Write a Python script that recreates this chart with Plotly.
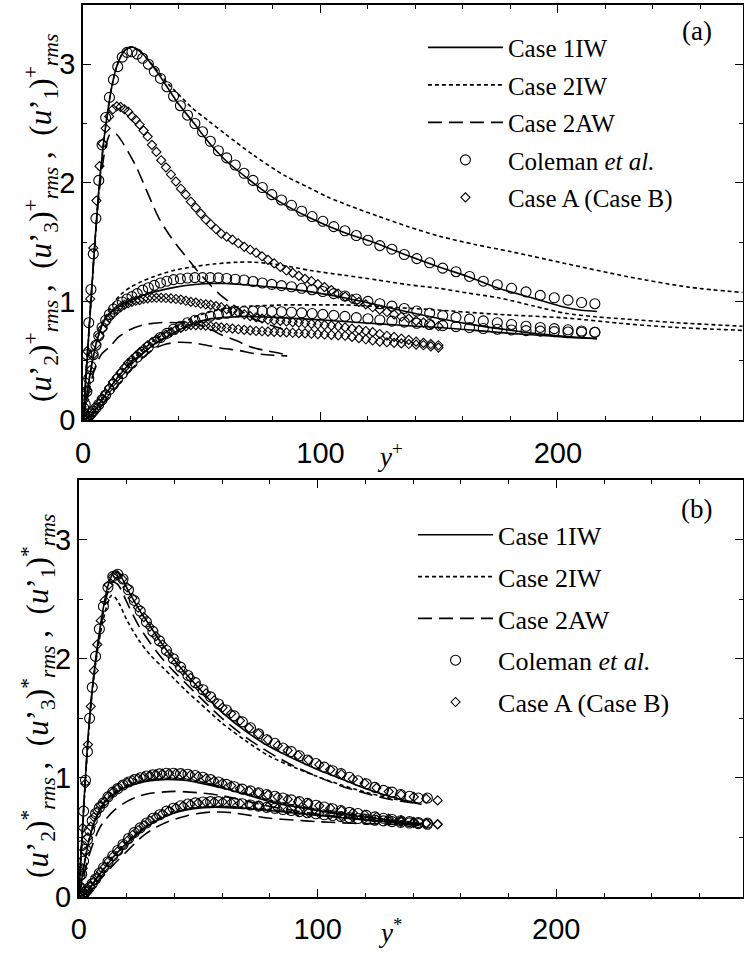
import plotly.graph_objects as go

# ---------------- Panel (a): wall units y+ ----------------
# Case 1IW (solid)
a_s1_x = [0, 1, 2, 3, 4, 5, 6, 7, 8, 9, 10, 12, 14, 16, 18, 20, 22, 25, 28, 32, 36, 40, 46, 53, 60, 71, 82, 95, 110, 122, 135, 150, 162, 175, 189, 203, 210, 216.5]
a_s1_y = [0, 0.30, 0.60, 0.90, 1.20, 1.50, 1.78, 2.02, 2.22, 2.40, 2.55, 2.80, 2.97, 3.07, 3.125, 3.145, 3.135, 3.09, 3.02, 2.91, 2.79, 2.67, 2.52, 2.34, 2.19, 2.01, 1.85, 1.71, 1.58, 1.50, 1.40, 1.29, 1.21, 1.11, 1.03, 0.95, 0.925, 0.915]
a_s3_x = [0, 1, 2, 3, 4, 5, 6, 8, 10, 12, 14, 17, 20, 25, 30, 39, 46, 53, 60, 68, 80, 96, 110, 124, 137, 150, 162, 175, 190, 203, 216.5]
a_s3_y = [0, 0.13, 0.27, 0.39, 0.50, 0.60, 0.68, 0.80, 0.87, 0.91, 0.94, 0.98, 1.01, 1.05, 1.08, 1.12, 1.14, 1.15, 1.15, 1.14, 1.12, 1.08, 1.03, 0.97, 0.91, 0.855, 0.81, 0.77, 0.73, 0.705, 0.685]
a_s2_x = [0, 2, 4, 6, 8, 10, 12, 15, 18, 21, 25, 30, 35, 40, 46, 53, 60, 68, 80, 95, 110, 125, 140, 150, 165, 180, 195, 205, 216.5]
a_s2_y = [0, 0.02, 0.06, 0.11, 0.17, 0.23, 0.29, 0.37, 0.44, 0.50, 0.56, 0.64, 0.70, 0.755, 0.81, 0.85, 0.865, 0.872, 0.865, 0.85, 0.83, 0.81, 0.79, 0.78, 0.755, 0.73, 0.71, 0.695, 0.685]
# Case 2IW (dotted)
a_d1_x = [0, 1, 2, 3, 4, 5, 6, 7, 8, 9, 10, 12, 14, 16, 18, 20, 22, 25, 28, 32, 36, 40, 46, 53, 60, 72, 85, 95, 103, 113, 124, 137, 150, 165, 180, 203, 229, 255, 278]
a_d1_y = [0, 0.30, 0.60, 0.90, 1.20, 1.50, 1.78, 2.02, 2.22, 2.40, 2.55, 2.80, 2.97, 3.07, 3.125, 3.145, 3.135, 3.09, 3.02, 2.93, 2.83, 2.75, 2.63, 2.52, 2.41, 2.23, 2.06, 1.96, 1.88, 1.80, 1.72, 1.63, 1.55, 1.48, 1.42, 1.32, 1.21, 1.12, 1.075]
a_d3_x = [0, 1, 2, 3, 4, 5, 6, 8, 10, 13, 16, 20, 25, 30, 38, 46, 55, 65, 72, 82, 96, 110, 124, 137, 150, 162, 175, 190, 203, 216, 229, 250, 278]
a_d3_y = [0, 0.13, 0.27, 0.40, 0.51, 0.60, 0.68, 0.80, 0.89, 0.99, 1.06, 1.12, 1.17, 1.21, 1.26, 1.29, 1.315, 1.33, 1.33, 1.31, 1.26, 1.22, 1.18, 1.14, 1.11, 1.07, 1.03, 0.96, 0.90, 0.87, 0.85, 0.82, 0.79]
a_d2_x = [0, 2, 4, 6, 8, 10, 13, 16, 20, 25, 30, 35, 40, 46, 55, 63, 71, 85, 100, 110, 125, 147, 175, 203, 229, 250, 278]
a_d2_y = [0, 0.02, 0.06, 0.12, 0.18, 0.24, 0.32, 0.40, 0.49, 0.59, 0.67, 0.74, 0.80, 0.86, 0.92, 0.95, 0.96, 0.97, 0.97, 0.97, 0.955, 0.93, 0.89, 0.86, 0.81, 0.78, 0.755]
# Case 2AW (dashed)
a_w1_x = [0, 1, 2, 3, 4, 5, 6, 7, 8, 9, 10, 11, 12, 14, 16, 19, 22.5, 26, 29, 32, 36, 40, 43.3, 48, 53, 57, 61.3, 66, 71, 76, 81, 85.5]
a_w1_y = [0, 0.30, 0.62, 0.93, 1.23, 1.50, 1.75, 1.96, 2.12, 2.25, 2.34, 2.40, 2.42, 2.41, 2.36, 2.26, 2.13, 1.97, 1.83, 1.70, 1.57, 1.46, 1.38, 1.26, 1.15, 1.07, 1.00, 0.93, 0.86, 0.82, 0.785, 0.755]
a_w3_x = [0, 2, 4, 6, 8, 11.4, 15, 19.7, 25, 32, 40, 46, 52, 58, 65, 70, 78, 86]
a_w3_y = [0, 0.20, 0.37, 0.49, 0.56, 0.62, 0.70, 0.76, 0.80, 0.82, 0.82, 0.815, 0.78, 0.72, 0.665, 0.62, 0.58, 0.55]
a_w2_x = [0, 3, 6, 10, 15, 20, 25, 30, 35, 40, 46, 52, 60, 66, 72, 80, 86]
a_w2_y = [0, 0.03, 0.08, 0.17, 0.30, 0.42, 0.52, 0.60, 0.64, 0.655, 0.65, 0.63, 0.60, 0.585, 0.56, 0.545, 0.54]
# Coleman et al. (circles)
a_c_x = [0.3, 0.9, 1.6, 2.4, 3.3, 4.3, 5.4, 6.6, 8.0, 9.5, 11.1, 12.8, 14.6, 16.5, 18.5, 20.6, 22.8, 25.1, 27.5, 30.0, 32.6, 35.3, 38.1, 41.0, 44.0, 47.1, 50.3, 53.6, 57.0, 60.5, 64.1, 67.8, 71.6, 75.5, 79.5, 83.6, 87.8, 92.1, 96.5, 101.0, 105.6, 110.3, 115.1, 120.0, 125.0, 130.1, 135.3, 140.6, 146.0, 151.5, 157.1, 162.8, 168.6, 174.5, 180.5, 186.6, 192.6, 198.5, 204.3, 210.0, 215.6]
a_c1_y = [0.10, 0.31, 0.55, 0.82, 1.10, 1.40, 1.70, 2.02, 2.32, 2.55, 2.72, 2.87, 2.98, 3.06, 3.10, 3.105, 3.085, 3.05, 3.00, 2.94, 2.88, 2.81, 2.73, 2.65, 2.57, 2.50, 2.43, 2.35, 2.27, 2.21, 2.15, 2.08, 2.02, 1.96, 1.90, 1.855, 1.81, 1.76, 1.715, 1.675, 1.63, 1.595, 1.555, 1.515, 1.47, 1.44, 1.395, 1.36, 1.325, 1.28, 1.25, 1.21, 1.17, 1.14, 1.11, 1.08, 1.05, 1.03, 1.01, 0.99, 0.98]
a_c3_y = [0.04, 0.13, 0.24, 0.35, 0.45, 0.55, 0.63, 0.71, 0.78, 0.84, 0.89, 0.935, 0.965, 0.995, 1.02, 1.04, 1.065, 1.095, 1.115, 1.135, 1.155, 1.17, 1.183, 1.19, 1.197, 1.20, 1.20, 1.20, 1.198, 1.193, 1.187, 1.18, 1.167, 1.155, 1.143, 1.133, 1.123, 1.11, 1.098, 1.083, 1.065, 1.045, 1.02, 1.00, 0.98, 0.96, 0.94, 0.918, 0.90, 0.88, 0.865, 0.85, 0.835, 0.82, 0.805, 0.79, 0.78, 0.77, 0.76, 0.75, 0.74]
a_c2_y = [0.0, 0.005, 0.015, 0.03, 0.05, 0.075, 0.10, 0.13, 0.17, 0.21, 0.255, 0.30, 0.345, 0.39, 0.44, 0.48, 0.53, 0.57, 0.615, 0.655, 0.695, 0.73, 0.765, 0.79, 0.82, 0.84, 0.86, 0.875, 0.89, 0.90, 0.91, 0.915, 0.918, 0.918, 0.915, 0.912, 0.908, 0.903, 0.897, 0.89, 0.882, 0.873, 0.863, 0.853, 0.843, 0.833, 0.825, 0.815, 0.805, 0.795, 0.787, 0.779, 0.771, 0.765, 0.759, 0.753, 0.749, 0.745, 0.742, 0.74, 0.738]
# Case A (diamonds)
a_a_x = [0.5, 1.7, 3.0, 4.3, 5.6, 6.9, 8.2, 9.5, 11.0, 12.6, 14.2, 15.8, 17.4, 19.0, 20.6, 22.2, 23.8, 25.5, 27.2, 29.0, 30.9, 32.9, 34.9, 37.0, 39.1, 41.2, 43.3, 45.4, 47.5, 49.6, 51.7, 53.8, 56.0, 58.2, 60.5, 62.9, 65.4, 67.9, 70.4, 72.9, 75.4, 77.9, 80.5, 83.1, 85.7, 88.3, 90.9, 93.5, 96.2, 98.9, 101.7, 104.6, 107.5, 110.4, 113.3, 116.2, 119.1, 122.0, 125.0, 128.0, 131.0, 134.1, 137.2, 140.3, 143.4, 146.5, 149.7]
a_a1_y = [0.17, 0.58, 1.02, 1.45, 1.85, 2.14, 2.33, 2.46, 2.56, 2.62, 2.645, 2.64, 2.62, 2.60, 2.56, 2.53, 2.49, 2.44, 2.39, 2.32, 2.26, 2.19, 2.13, 2.07, 2.01, 1.95, 1.90, 1.84, 1.79, 1.74, 1.69, 1.65, 1.61, 1.57, 1.545, 1.52, 1.49, 1.46, 1.435, 1.41, 1.38, 1.35, 1.32, 1.29, 1.26, 1.24, 1.215, 1.19, 1.17, 1.145, 1.12, 1.095, 1.065, 1.04, 1.02, 0.995, 0.975, 0.95, 0.93, 0.91, 0.89, 0.87, 0.855, 0.835, 0.82, 0.805, 0.79]
a_a3_y = [0.07, 0.25, 0.42, 0.55, 0.64, 0.71, 0.77, 0.82, 0.86, 0.895, 0.925, 0.95, 0.97, 0.985, 0.995, 1.005, 1.01, 1.02, 1.025, 1.03, 1.03, 1.03, 1.028, 1.025, 1.02, 1.015, 1.005, 0.995, 0.99, 0.98, 0.975, 0.97, 0.96, 0.95, 0.935, 0.92, 0.905, 0.89, 0.875, 0.865, 0.855, 0.845, 0.84, 0.835, 0.83, 0.825, 0.82, 0.815, 0.81, 0.805, 0.80, 0.795, 0.79, 0.78, 0.77, 0.76, 0.75, 0.74, 0.725, 0.71, 0.70, 0.685, 0.675, 0.66, 0.65, 0.64, 0.63]
a_a2_y = [0.0, 0.01, 0.03, 0.06, 0.10, 0.14, 0.18, 0.22, 0.27, 0.32, 0.36, 0.40, 0.44, 0.48, 0.51, 0.54, 0.57, 0.60, 0.63, 0.655, 0.68, 0.70, 0.72, 0.74, 0.76, 0.775, 0.79, 0.80, 0.80, 0.80, 0.795, 0.79, 0.785, 0.78, 0.775, 0.77, 0.765, 0.76, 0.755, 0.75, 0.748, 0.745, 0.742, 0.74, 0.738, 0.735, 0.732, 0.73, 0.727, 0.724, 0.72, 0.717, 0.713, 0.71, 0.70, 0.69, 0.68, 0.67, 0.66, 0.655, 0.65, 0.645, 0.64, 0.635, 0.63, 0.62, 0.61]

# ---------------- Panel (b): semi-local units y* ----------------
b_s1_x = [0, 1, 2, 3, 4, 5, 6, 7, 8, 10, 12, 14, 15, 16, 18, 20, 23, 26, 30, 35, 40, 45, 50, 55, 60, 70, 80, 90, 100, 110, 120, 130, 143.5]
b_s1_y = [0, 0.38, 0.74, 1.08, 1.38, 1.62, 1.82, 1.99, 2.14, 2.40, 2.60, 2.71, 2.74, 2.73, 2.68, 2.60, 2.49, 2.39, 2.27, 2.12, 1.99, 1.87, 1.76, 1.65, 1.55, 1.39, 1.26, 1.16, 1.07, 0.99, 0.91, 0.845, 0.776]
b_d1_x = [0, 1, 2, 3, 4, 5, 6, 7, 8, 10, 12, 13.5, 15, 17, 20, 25, 30, 35, 40, 45, 50, 60, 70, 80, 90, 100, 110, 120, 130, 143.5]
b_d1_y = [0, 0.36, 0.72, 1.05, 1.34, 1.59, 1.79, 1.95, 2.09, 2.31, 2.46, 2.53, 2.52, 2.46, 2.33, 2.16, 2.03, 1.93, 1.83, 1.73, 1.64, 1.46, 1.31, 1.18, 1.09, 1.01, 0.94, 0.88, 0.83, 0.78]
b_w1_x = [0, 1, 2, 3, 4, 5, 6, 7, 8, 10, 12, 14, 16, 18, 20, 25, 30, 35, 40, 45, 50, 60, 70, 80, 90, 100, 110, 120, 130, 143.5]
b_w1_y = [0, 0.37, 0.73, 1.07, 1.37, 1.61, 1.81, 1.97, 2.11, 2.36, 2.55, 2.64, 2.63, 2.57, 2.48, 2.28, 2.13, 2.00, 1.89, 1.79, 1.69, 1.50, 1.34, 1.21, 1.10, 1.01, 0.93, 0.87, 0.82, 0.78]
b_s3_x = [0, 1, 2, 3, 4, 5, 6, 8, 10, 12, 15, 20, 25, 30, 35, 40, 45, 50, 60, 70, 80, 90, 100, 110, 120, 130, 143.5]
b_s3_y = [0, 0.12, 0.24, 0.35, 0.45, 0.53, 0.60, 0.70, 0.77, 0.82, 0.87, 0.925, 0.955, 0.975, 0.985, 0.985, 0.978, 0.96, 0.915, 0.86, 0.80, 0.76, 0.725, 0.695, 0.67, 0.645, 0.615]
b_d3_y = [0, 0.12, 0.245, 0.36, 0.46, 0.54, 0.61, 0.71, 0.78, 0.83, 0.88, 0.935, 0.965, 0.985, 0.995, 0.995, 0.988, 0.97, 0.925, 0.87, 0.81, 0.77, 0.735, 0.70, 0.675, 0.65, 0.62]
b_w3_x = [0, 2, 4, 6, 8, 10, 15, 20, 25, 30, 40, 50, 60, 70, 80, 90, 100, 110, 120, 130, 143.5]
b_w3_y = [0, 0.17, 0.33, 0.45, 0.55, 0.62, 0.73, 0.80, 0.845, 0.87, 0.886, 0.875, 0.85, 0.805, 0.76, 0.725, 0.695, 0.67, 0.65, 0.63, 0.61]
b_s2_x = [0, 2, 4, 6, 8, 10, 13, 16, 20, 25, 30, 35, 40, 45, 50, 55, 60, 70, 80, 90, 100, 110, 120, 130, 143.5]
b_s2_y = [0, 0.02, 0.06, 0.11, 0.17, 0.22, 0.30, 0.37, 0.45, 0.54, 0.61, 0.665, 0.705, 0.73, 0.745, 0.752, 0.752, 0.742, 0.725, 0.705, 0.685, 0.665, 0.645, 0.63, 0.605]
b_d2_y = [0, 0.02, 0.06, 0.115, 0.175, 0.23, 0.31, 0.38, 0.46, 0.55, 0.62, 0.675, 0.715, 0.74, 0.755, 0.762, 0.762, 0.752, 0.733, 0.712, 0.69, 0.67, 0.65, 0.633, 0.607]
b_w2_x = [0, 3, 6, 10, 15, 20, 25, 28, 32, 36, 40, 45, 50, 55, 60, 65, 70, 80, 90, 100, 110, 120, 130, 143.5]
b_w2_y = [0, 0.03, 0.08, 0.17, 0.28, 0.38, 0.48, 0.53, 0.58, 0.62, 0.65, 0.68, 0.70, 0.712, 0.713, 0.705, 0.69, 0.66, 0.645, 0.632, 0.622, 0.615, 0.61, 0.60]
b_c_x = [0.5, 1.2, 2.0, 2.8, 3.6, 4.5, 5.6, 7.0, 8.6, 10.3, 12.2, 14.2, 16.3, 18.5, 20.8, 23.2, 25.7, 28.3, 31.0, 33.8, 36.7, 39.6, 42.6, 45.7, 48.8, 52.0, 55.2, 58.5, 61.8, 65.1, 68.5, 71.9, 75.3, 78.7, 82.1, 85.5, 89.0, 92.4, 95.8, 99.3, 102.8, 106.3, 109.8, 113.3, 116.9, 120.4, 124.0, 127.6, 131.2, 134.8, 138.5, 142.2, 146.0]
b_c1_y = [0.18, 0.43, 0.72, 0.98, 1.22, 1.50, 1.76, 2.02, 2.25, 2.44, 2.60, 2.69, 2.71, 2.67, 2.58, 2.49, 2.40, 2.31, 2.23, 2.15, 2.07, 2.00, 1.93, 1.86, 1.80, 1.74, 1.68, 1.62, 1.57, 1.52, 1.47, 1.42, 1.37, 1.32, 1.29, 1.25, 1.22, 1.185, 1.15, 1.12, 1.09, 1.06, 1.035, 1.005, 0.975, 0.95, 0.92, 0.895, 0.88, 0.86, 0.845, 0.83, 0.83]
b_c3_y = [0.08, 0.19, 0.30, 0.40, 0.48, 0.56, 0.64, 0.70, 0.75, 0.79, 0.84, 0.88, 0.91, 0.94, 0.965, 0.985, 1.00, 1.015, 1.025, 1.033, 1.038, 1.038, 1.035, 1.03, 1.02, 1.005, 0.985, 0.965, 0.945, 0.925, 0.905, 0.89, 0.875, 0.86, 0.845, 0.83, 0.815, 0.80, 0.785, 0.77, 0.755, 0.74, 0.725, 0.71, 0.70, 0.685, 0.672, 0.66, 0.65, 0.64, 0.632, 0.625, 0.62]
b_c2_y = [0.0, 0.01, 0.02, 0.04, 0.06, 0.08, 0.11, 0.15, 0.20, 0.245, 0.295, 0.345, 0.39, 0.44, 0.49, 0.54, 0.58, 0.62, 0.66, 0.69, 0.72, 0.745, 0.765, 0.78, 0.79, 0.797, 0.80, 0.80, 0.797, 0.79, 0.782, 0.772, 0.762, 0.752, 0.743, 0.734, 0.725, 0.716, 0.707, 0.698, 0.69, 0.682, 0.674, 0.666, 0.658, 0.65, 0.644, 0.638, 0.632, 0.626, 0.62, 0.615, 0.61]
b_a_x = [0.6, 1.6, 2.7, 3.8, 5.0, 6.3, 7.7, 9.2, 10.8, 12.5, 14.3, 16.2, 18.2, 20.3, 22.5, 24.8, 27.2, 29.7, 32.3, 35.0, 37.8, 40.7, 43.7, 46.8, 50.0, 53.3, 56.7, 60.2, 63.8, 67.5, 71.3, 75.2, 79.2, 83.3, 87.5, 91.8, 96.2, 100.7, 105.3, 110.0, 114.8, 119.7, 124.7, 129.8, 135.0, 140.3, 145.5, 150.3]
b_a1_y = [0.22, 0.58, 0.95, 1.28, 1.60, 1.90, 2.12, 2.32, 2.49, 2.62, 2.69, 2.70, 2.67, 2.60, 2.51, 2.43, 2.35, 2.27, 2.19, 2.12, 2.04, 1.97, 1.90, 1.84, 1.77, 1.71, 1.65, 1.59, 1.54, 1.48, 1.42, 1.37, 1.32, 1.27, 1.23, 1.19, 1.15, 1.11, 1.07, 1.03, 0.99, 0.955, 0.915, 0.885, 0.86, 0.84, 0.825, 0.81]
b_a3_y = [0.09, 0.24, 0.38, 0.50, 0.59, 0.67, 0.72, 0.77, 0.80, 0.845, 0.88, 0.91, 0.94, 0.96, 0.98, 0.995, 1.01, 1.02, 1.03, 1.035, 1.038, 1.037, 1.033, 1.025, 1.013, 0.995, 0.975, 0.955, 0.935, 0.91, 0.89, 0.875, 0.857, 0.84, 0.82, 0.80, 0.785, 0.765, 0.745, 0.725, 0.705, 0.69, 0.672, 0.657, 0.643, 0.63, 0.62, 0.612]
b_a2_y = [0.0, 0.01, 0.035, 0.06, 0.09, 0.13, 0.17, 0.21, 0.25, 0.30, 0.34, 0.38, 0.43, 0.47, 0.52, 0.56, 0.60, 0.64, 0.67, 0.70, 0.725, 0.75, 0.765, 0.78, 0.79, 0.795, 0.798, 0.798, 0.793, 0.785, 0.775, 0.765, 0.755, 0.743, 0.732, 0.72, 0.71, 0.70, 0.69, 0.678, 0.668, 0.658, 0.648, 0.638, 0.63, 0.622, 0.615, 0.608]

legend_names = ["Case 1IW", "Case 2IW", "Case 2AW", "Coleman <i>et al.</i>", "Case A (Case B)"]
x_ticks = [0, 100, 200]
y_ticks = [0, 1, 2, 3]

SERIF = "Liberation Serif, Times New Roman, serif"
SANS = "Liberation Sans, Arial, Helvetica, sans-serif"
K = "black"
DOT = "4px,3px"
DASH = "14px,7px"

fig = go.Figure()


def add_line(x, y, dash, xa, ya, leg, k, show):
    fig.add_trace(go.Scatter(
        x=x, y=y, mode="lines", xaxis=xa, yaxis=ya, legend=leg,
        legendgroup=leg + str(k), legendrank=k + 1,
        line=dict(color=K, width=1.6, dash=dash, shape="spline", smoothing=0.8),
        name=legend_names[k], showlegend=show, hoverinfo="skip"))


def add_markers(x, y, sym, size, xa, ya, leg, k, show):
    fig.add_trace(go.Scatter(
        x=x, y=y, mode="markers", xaxis=xa, yaxis=ya, legend=leg,
        legendgroup=leg + str(k), legendrank=k + 1,
        marker=dict(symbol=sym, size=size, color=K, line=dict(width=1.1, color=K)),
        name=legend_names[k], showlegend=show, hoverinfo="skip"))


panels = {
    "a": dict(
        solid=[(a_s1_x, a_s1_y), (a_s3_x, a_s3_y), (a_s2_x, a_s2_y)],
        dotted=[(a_d1_x, a_d1_y), (a_d3_x, a_d3_y), (a_d2_x, a_d2_y)],
        dashed=[(a_w1_x, a_w1_y), (a_w3_x, a_w3_y), (a_w2_x, a_w2_y)],
        circ=[(a_c_x, a_c1_y), (a_c_x, a_c3_y), (a_c_x, a_c2_y)],
        diam=[(a_a_x, a_a1_y), (a_a_x, a_a3_y), (a_a_x, a_a2_y)]),
    "b": dict(
        solid=[(b_s1_x, b_s1_y), (b_s3_x, b_s3_y), (b_s2_x, b_s2_y)],
        dotted=[(b_d1_x, b_d1_y), (b_s3_x, b_d3_y), (b_s2_x, b_d2_y)],
        dashed=[(b_w1_x, b_w1_y), (b_w3_x, b_w3_y), (b_w2_x, b_w2_y)],
        circ=[(b_c_x, b_c1_y), (b_c_x, b_c3_y), (b_c_x, b_c2_y)],
        diam=[(b_a_x, b_a1_y), (b_a_x, b_a3_y), (b_a_x, b_a2_y)]),
}

for P, xa, ya, leg in [("a", "x", "y", "legend"), ("b", "x2", "y2", "legend2")]:
    d = panels[P]
    for i, (x, y) in enumerate(d["diam"]):
        add_markers(x, y, "diamond-open", 7, xa, ya, leg, 4, i == 0)
    for i, (x, y) in enumerate(d["circ"]):
        add_markers(x, y, "circle-open", 10, xa, ya, leg, 3, i == 0)
    for i, (x, y) in enumerate(d["solid"]):
        add_line(x, y, "solid", xa, ya, leg, 0, i == 0)
    for i, (x, y) in enumerate(d["dotted"]):
        add_line(x, y, DOT, xa, ya, leg, 1, i == 0)
    for i, (x, y) in enumerate(d["dashed"]):
        add_line(x, y, DASH, xa, ya, leg, 2, i == 0)

W, H = 744, 965


def xax(domain, rng, anchor):
    return dict(domain=domain, range=rng, anchor=anchor, showline=True, linewidth=1.6, linecolor=K,
                mirror="allticks", ticks="inside", ticklen=8, tickwidth=1.3, tickcolor=K,
                tickmode="array", tickvals=x_ticks, ticktext=[str(v) for v in x_ticks],
                ticklabelstandoff=6,
                minor=dict(tickmode="linear", tick0=0, dtick=20, ticks="inside", ticklen=4, tickwidth=1.1, tickcolor=K),
                showgrid=False, zeroline=False, tickfont=dict(family=SANS, size=29, color=K))


def yax(domain, anchor):
    return dict(domain=domain, range=[0, 3.5], anchor=anchor, showline=True, linewidth=1.6, linecolor=K,
                mirror="allticks", ticks="inside", ticklen=8, tickwidth=1.3, tickcolor=K,
                tickmode="array", tickvals=y_ticks, ticktext=[str(v) for v in y_ticks],
                minor=dict(tickmode="linear", tick0=0, dtick=0.5, ticks="inside", ticklen=4, tickwidth=1.1, tickcolor=K),
                showgrid=False, zeroline=False, tickfont=dict(family=SANS, size=29, color=K))


fig.update_layout(
    width=W, height=H, margin=dict(l=0, r=0, t=0, b=0),
    paper_bgcolor="white", plot_bgcolor="white",
    xaxis=xax([76 / W, 743.5 / W], [0, 277.8], "y"),
    yaxis=yax([1 - 427 / H, 1 - 5 / H], "x"),
    xaxis2=xax([71.7 / W, 743.5 / W], [0, 278.0], "y2"),
    yaxis2=yax([1 - 912 / H, 1 - 488.3 / H], "x2"),
    legend=dict(x=420 / W, y=1 - 25 / H, xanchor="left", yanchor="top", bgcolor="rgba(0,0,0,0)",
                font=dict(family=SERIF, size=25, color=K), itemwidth=75, tracegroupgap=2,
                traceorder="grouped"),
    legend2=dict(x=410 / W, y=1 - 520 / H, xanchor="left", yanchor="top", bgcolor="rgba(0,0,0,0)",
                 font=dict(family=SERIF, size=26, color=K), itemwidth=75, tracegroupgap=5,
                 traceorder="grouped"),
    showlegend=True,
)

ytitle_a = "(<i>u</i>’<sub>2</sub>)<sup>+</sup><sub><i>rms</i></sub> ,  (<i>u</i>’<sub>3</sub>)<sup>+</sup><sub><i>rms</i></sub> ,  (<i>u</i>’<sub>1</sub>)<sup>+</sup><sub><i>rms</i></sub>"
ytitle_b = "(<i>u</i>’<sub>2</sub>)<sup>*</sup><sub><i>rms</i></sub> ,  (<i>u</i>’<sub>3</sub>)<sup>*</sup><sub><i>rms</i></sub> ,  (<i>u</i>’<sub>1</sub>)<sup>*</sup><sub><i>rms</i></sub>"
ann = [
    dict(text=ytitle_a, x=34 / W, y=1 - 222 / H, textangle=-90),
    dict(text=ytitle_b, x=31 / W, y=1 - 708 / H, textangle=-90),
    dict(text="<i>y</i><sup>+</sup>", x=387 / W, y=1 - 463 / H),
    dict(text="<i>y</i><sup>*</sup>", x=387 / W, y=1 - 947 / H),
    dict(text="(a)", x=697 / W, y=1 - 32 / H),
    dict(text="(b)", x=697 / W, y=1 - 518 / H),
]
for a in ann:
    fig.add_annotation(xref="paper", yref="paper", showarrow=False, xanchor="center", yanchor="middle",
                       font=dict(family=SERIF, size=31 if "rms" in a["text"] else 27, color=K), **a)

fig.write_html("out.html")
